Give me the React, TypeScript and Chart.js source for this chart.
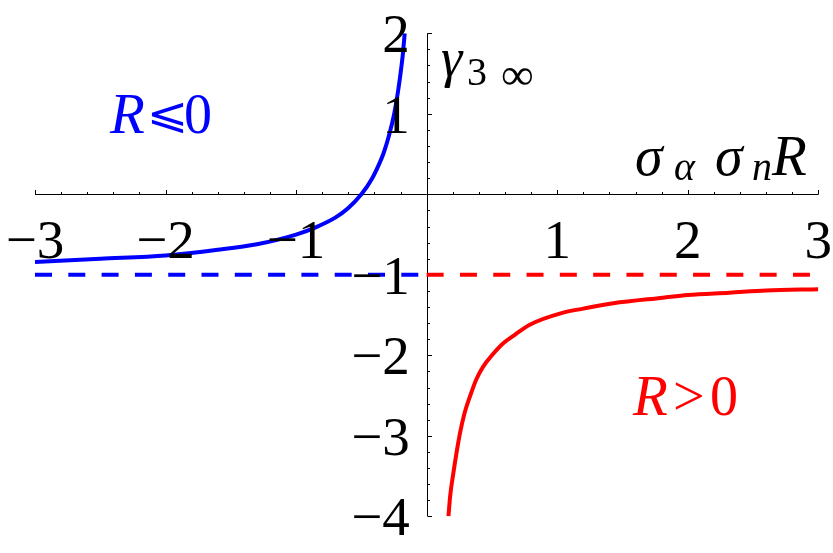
import React, { useEffect, useRef } from "react";
import { Chart, registerables } from "chart.js";

Chart.register(...registerables);

// ---- data ----
const blueX = [-3, -2.5, -2, -1.6, -1.3, -1.0, -0.85, -0.7, -0.6, -0.5, -0.42, -0.36, -0.33, -0.29, -0.25, -0.22, -0.2, -0.183, -0.168];
const blueY = [-0.84, -0.8, -0.76, -0.69, -0.62, -0.5, -0.41, -0.29, -0.17, 0.0, 0.19, 0.39, 0.51, 0.72, 0.99, 1.27, 1.5, 1.73, 2.0];

const redX = [0.167, 0.18, 0.204, 0.23, 0.255, 0.29, 0.332, 0.38, 0.433, 0.5, 0.587, 0.68, 0.79, 1.046, 1.2, 1.43, 1.81, 2.0, 2.32, 2.6, 3.0];
const redY = [-4.0, -3.75, -3.47, -3.2, -2.97, -2.72, -2.51, -2.3, -2.14, -2.0, -1.85, -1.74, -1.62, -1.47, -1.42, -1.354, -1.284, -1.25, -1.222, -1.195, -1.18];

const asymptoteY = [-1, -1];
const blueDashX = [-3, 0];
const redDashX = [0, 3];

const xTickValues = [-3, -2, -1, 1, 2, 3];
const xTickLabels = ["\u22123", "\u22122", "\u22121", "1", "2", "3"];
const yTickValues = [2, 1, -1, -2, -3, -4];
const yTickLabels = ["2", "1", "\u22121", "\u22122", "\u22123", "\u22124"];
const minorStep = 0.2;

const xRange = [-3, 3];
const yRange = [-4, 2];

const SERIF = '"Liberation Serif", "Times New Roman", "DejaVu Serif", serif';
const MATHSYM = '"DejaVu Sans", "DejaVu Serif", serif';
const BLUE = "#0000ff";
const RED = "#ff0000";

const zip = (xs: number[], ys: number[]) => xs.map((x, i) => ({ x, y: ys[i] }));

// draw a text so that its ink fits the given box
function fitText(ctx: CanvasRenderingContext2D, text: string, font: string, l: number, t: number, r: number, b: number) {
  ctx.save();
  ctx.font = font;
  ctx.textAlign = "left";
  ctx.textBaseline = "alphabetic";
  const m = ctx.measureText(text);
  const inkL = -m.actualBoundingBoxLeft;
  const inkR = m.actualBoundingBoxRight;
  const inkT = -m.actualBoundingBoxAscent;
  const inkB = m.actualBoundingBoxDescent;
  const sx = (r - l) / Math.max(1, inkR - inkL);
  const sy = (b - t) / Math.max(1, inkB - inkT);
  ctx.translate(l - inkL * sx, t - inkT * sy);
  ctx.scale(sx, sy);
  ctx.fillText(text, 0, 0);
  ctx.restore();
}

const crossAxesPlugin = {
  id: "crossAxes",
  beforeDatasetsDraw(chart: any) {
    const { ctx, scales } = chart;
    const xs = scales.x;
    const ys = scales.y;
    const x0 = Math.round(xs.getPixelForValue(0)) + 0.5;
    const y0 = Math.round(ys.getPixelForValue(0)) + 0.5;
    ctx.save();
    ctx.strokeStyle = "#000";
    ctx.lineWidth = 1;
    ctx.beginPath();
    ctx.moveTo(xs.getPixelForValue(xRange[0]), y0);
    ctx.lineTo(xs.getPixelForValue(xRange[1]), y0);
    ctx.moveTo(x0, ys.getPixelForValue(yRange[1]));
    ctx.lineTo(x0, ys.getPixelForValue(yRange[0]));
    const nx = Math.round((xRange[1] - xRange[0]) / minorStep);
    for (let i = 0; i <= nx; i++) {
      const v = xRange[0] + i * minorStep;
      if (Math.abs(v) < 1e-6) continue;
      const major = Math.abs(v - Math.round(v)) < 1e-6;
      const px = Math.round(xs.getPixelForValue(v)) + 0.5;
      ctx.moveTo(px, y0);
      ctx.lineTo(px, y0 - (major ? 4.5 : 2.5));
    }
    const ny = Math.round((yRange[1] - yRange[0]) / minorStep);
    for (let i = 0; i <= ny; i++) {
      const v = yRange[0] + i * minorStep;
      if (Math.abs(v) < 1e-6) continue;
      const major = Math.abs(v - Math.round(v)) < 1e-6;
      const py = Math.round(ys.getPixelForValue(v)) + 0.5;
      ctx.moveTo(x0, py);
      ctx.lineTo(x0 + (major ? 4.5 : 2.5), py);
    }
    ctx.stroke();
    ctx.restore();
  },
  afterDatasetsDraw(chart: any) {
    const { ctx, scales } = chart;
    const xs = scales.x;
    const ys = scales.y;
    const x0 = xs.getPixelForValue(0);
    const y0 = ys.getPixelForValue(0);
    ctx.save();
    ctx.fillStyle = "#000";
    ctx.font = `55px ${SERIF}`;
    ctx.textBaseline = "alphabetic";
    ctx.textAlign = "center";
    xTickValues.forEach((v, i) => {
      ctx.fillText(xTickLabels[i], xs.getPixelForValue(v), y0 + 64);
    });
    ctx.textAlign = "right";
    yTickValues.forEach((v, i) => {
      ctx.fillText(yTickLabels[i], x0 - 17, ys.getPixelForValue(v) + 19);
    });

    // y-axis title: gamma_{3 infinity}
    ctx.textAlign = "left";
    ctx.font = `italic 54px ${SERIF}`;
    ctx.fillText("\u03b3", 441, 76);
    ctx.font = `40px ${SERIF}`;
    ctx.fillText("3", 467, 85);
    fitText(ctx, "\u221e", `46px ${SERIF}`, 502, 67, 533, 85);

    // x-axis title: sigma_alpha sigma_n R
    ctx.font = `italic 56px ${SERIF}`;
    ctx.fillText("\u03c3", 635, 175);
    ctx.font = `italic 40px ${SERIF}`;
    ctx.fillText("\u03b1", 674, 180);
    ctx.font = `italic 56px ${SERIF}`;
    ctx.fillText("\u03c3", 715, 175);
    ctx.font = `italic 40px ${SERIF}`;
    ctx.fillText("n", 752, 180);
    ctx.font = `italic 57px ${SERIF}`;
    ctx.fillText("R", 772, 175);

    // region labels
    ctx.fillStyle = BLUE;
    ctx.font = `italic 57px ${SERIF}`;
    ctx.fillText("R", 110, 133);
    fitText(ctx, "\u2a7d", `56px ${MATHSYM}`, 151, 102, 183, 133);
    ctx.font = `56px ${SERIF}`;
    ctx.fillText("0", 184, 133);

    ctx.fillStyle = RED;
    ctx.font = `italic 57px ${SERIF}`;
    ctx.fillText("R", 633, 415);
    ctx.font = `56px ${SERIF}`;
    ctx.fillText(">", 673, 415);
    ctx.fillText("0", 710, 415);
    ctx.restore();
  },
};

export default function App() {
  const ref = useRef<HTMLCanvasElement | null>(null);
  useEffect(() => {
    if (!ref.current) return;
    const chart = new Chart(ref.current, {
      type: "line",
      data: {
        datasets: [
          {
            data: zip(blueDashX, asymptoteY),
            borderColor: BLUE,
            borderWidth: 4,
            borderDash: [17, 16.3],
            pointRadius: 0,
            fill: false,
          },
          {
            data: zip(redDashX, asymptoteY),
            borderColor: RED,
            borderWidth: 4,
            borderDash: [17, 16.3],
            pointRadius: 0,
            fill: false,
          },
          {
            data: zip(blueX, blueY),
            borderColor: BLUE,
            borderWidth: 4,
            pointRadius: 0,
            cubicInterpolationMode: "monotone",
            fill: false,
          },
          {
            data: zip(redX, redY),
            borderColor: RED,
            borderWidth: 4,
            pointRadius: 0,
            cubicInterpolationMode: "monotone",
            fill: false,
          },
        ],
      },
      options: {
        responsive: false,
        animation: false,
        layout: { padding: { left: 35, right: 14.7, top: 33.3, bottom: 36.7 } },
        plugins: { legend: { display: false }, tooltip: { enabled: false } },
        scales: {
          x: { type: "linear", min: xRange[0], max: xRange[1], display: false },
          y: { type: "linear", min: yRange[0], max: yRange[1], display: false },
        },
      },
      plugins: [crossAxesPlugin],
    } as any);
    return () => chart.destroy();
  }, []);
  return (
    <div style={{ position: "absolute", left: 0, top: 0, width: 833, height: 553, background: "#fff" }}>
      <canvas ref={ref} width={833} height={553} style={{ display: "block" }} />
    </div>
  );
}
